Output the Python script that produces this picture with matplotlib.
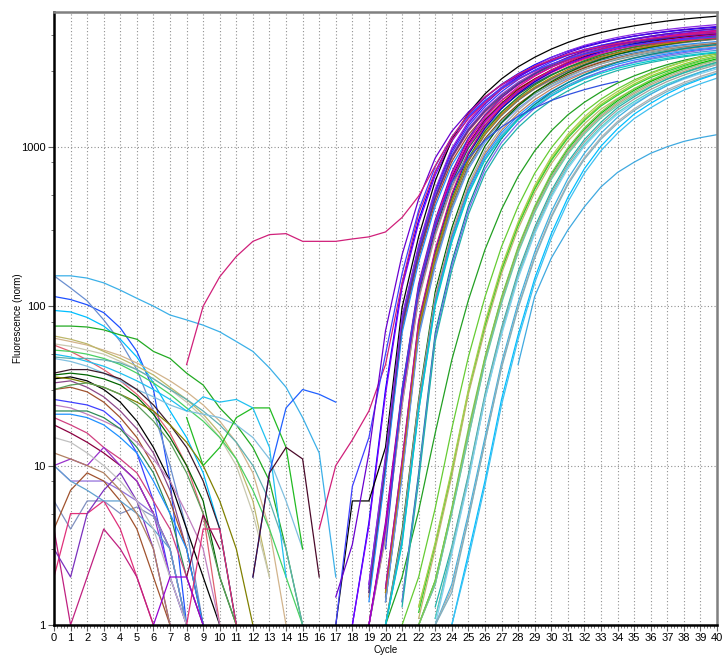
import numpy as np
import matplotlib
matplotlib.use("Agg")
import matplotlib.pyplot as plt
from matplotlib.ticker import FixedLocator, MultipleLocator, NullFormatter

plt.rcParams['font.family'] = ['Liberation Sans', 'DejaVu Sans']

# amplification curves: first cycle and fluorescence values (norm)
amp_starts = [18, 18, 19, 17, 19, 19, 19, 19, 19,
              19, 19, 19, 19, 19, 19,
              20, 20, 20, 20, 20, 20,
              20, 20, 20, 20, 20,
              21, 21, 21,
              19, 20, 19, 20, 19, 20, 19,
              20, 16, 17, 17]
amp_values = [
    [1, 4.4, 30, 138, 347, 693, 1133, 1584, 2024, 2464, 2871, 3267, 3641, 3971, 4268, 4521, 4741, 4939, 5115, 5269, 5401, 5522, 5621],
    [1, 4.2, 28, 131, 331, 662, 1082, 1512, 1932, 2352, 2741, 3119, 3476, 3791, 4074, 4316, 4526, 4715, 4883, 5030, 5156, 5271, 5366],
    [1.8, 11, 84, 235, 526, 952, 1400, 1848, 2296, 2733, 3136, 3528, 3886, 4211, 4480, 4726, 4939, 5130, 5298, 5443, 5566, 5678],
    [1, 6, 6, 13, 98, 273, 611, 1105, 1625, 2145, 2665, 3172, 3640, 4095, 4511, 4888, 5200, 5486, 5733, 5954, 6149, 6318, 6461, 6591],
    [1.7, 10.8, 81, 227, 508, 918, 1350, 1782, 2214, 2635, 3024, 3402, 3748, 4061, 4320, 4558, 4763, 4946, 5108, 5249, 5368, 5476],
    [1.7, 10.4, 78, 218, 489, 884, 1300, 1716, 2132, 2538, 2912, 3276, 3609, 3910, 4160, 4389, 4586, 4763, 4919, 5054, 5169, 5273],
    [1.6, 10, 75, 210, 470, 850, 1250, 1650, 2050, 2440, 2800, 3150, 3470, 3760, 4000, 4220, 4410, 4580, 4730, 4860, 4970, 5070],
    [1.5, 9.5, 71, 200, 447, 808, 1188, 1568, 1948, 2318, 2660, 2993, 3297, 3572, 3800, 4009, 4190, 4351, 4494, 4617, 4722, 4817],
    [1.4, 9, 68, 189, 423, 765, 1125, 1485, 1845, 2196, 2520, 2835, 3123, 3384, 3600, 3798, 3969, 4122, 4257, 4374, 4473, 4563],
    [1, 4.4, 30, 138, 347, 693, 1133, 1584, 2024, 2464, 2871, 3267, 3641, 3971, 4268, 4521, 4741, 4939, 5115, 5269, 5401, 5522],
    [1, 4.1, 28, 128, 321, 643, 1051, 1469, 1877, 2285, 2662, 3029, 3376, 3682, 3958, 4192, 4396, 4580, 4743, 4886, 5008, 5120],
    [1, 3.9, 26, 123, 309, 617, 1009, 1411, 1803, 2195, 2558, 2911, 3244, 3538, 3802, 4028, 4224, 4400, 4557, 4694, 4812, 4920],
    [1, 3.8, 26, 119, 299, 599, 979, 1368, 1748, 2128, 2480, 2822, 3145, 3430, 3686, 3905, 4095, 4266, 4418, 4551, 4665, 4769],
    [1, 3.6, 24, 113, 284, 567, 927, 1296, 1656, 2016, 2349, 2673, 2979, 3249, 3492, 3699, 3879, 4041, 4185, 4311, 4419, 4518],
    [1, 3.5, 24, 110, 277, 554, 906, 1267, 1619, 1971, 2297, 2614, 2913, 3177, 3414, 3617, 3793, 3951, 4092, 4215, 4321, 4418],
    [1.7, 10.5, 79, 221, 494, 893, 1313, 1733, 2153, 2562, 2940, 3308, 3644, 3948, 4200, 4431, 4631, 4809, 4967, 5103, 5219],
    [1.6, 10, 75, 210, 470, 850, 1250, 1650, 2050, 2440, 2800, 3150, 3470, 3760, 4000, 4220, 4410, 4580, 4730, 4860, 4970],
    [1.5, 9.5, 71, 200, 447, 808, 1188, 1568, 1948, 2318, 2660, 2993, 3297, 3572, 3800, 4009, 4190, 4351, 4494, 4617, 4722],
    [1.4, 9, 68, 189, 423, 765, 1125, 1485, 1845, 2196, 2520, 2835, 3123, 3384, 3600, 3798, 3969, 4122, 4257, 4374, 4473],
    [1.4, 8.8, 66, 185, 414, 748, 1100, 1452, 1804, 2147, 2464, 2772, 3054, 3309, 3520, 3714, 3881, 4030, 4162, 4277, 4374],
    [1.4, 8.5, 64, 179, 400, 723, 1063, 1403, 1743, 2074, 2380, 2678, 2950, 3196, 3400, 3587, 3749, 3893, 4021, 4131, 4225],
    [1, 3.9, 26, 123, 309, 617, 1009, 1411, 1803, 2195, 2558, 2911, 3244, 3538, 3802, 4028, 4224, 4400, 4557, 4694, 4812],
    [1, 3.7, 25, 115, 290, 580, 948, 1325, 1693, 2061, 2401, 2732, 3045, 3321, 3570, 3781, 3965, 4131, 4278, 4407, 4517],
    [1, 3.5, 24, 110, 277, 554, 906, 1267, 1619, 1971, 2297, 2614, 2913, 3177, 3414, 3617, 3793, 3951, 4092, 4215, 4321],
    [1, 3.4, 23, 106, 268, 536, 876, 1224, 1564, 1904, 2219, 2525, 2814, 3069, 3298, 3494, 3664, 3817, 3953, 4072, 4174],
    [1, 3.3, 22, 103, 258, 517, 845, 1181, 1509, 1837, 2140, 2435, 2714, 2960, 3182, 3370, 3534, 3682, 3813, 3928, 4026],
    [1.4, 9, 68, 189, 423, 765, 1125, 1485, 1845, 2196, 2520, 2835, 3123, 3384, 3600, 3798, 3969, 4122, 4257, 4374],
    [1.4, 8.5, 64, 179, 400, 723, 1063, 1403, 1743, 2074, 2380, 2678, 2950, 3196, 3400, 3587, 3749, 3893, 4021, 4131],
    [1.3, 8, 60, 168, 376, 680, 1000, 1320, 1640, 1952, 2240, 2520, 2776, 3008, 3200, 3376, 3528, 3664, 3784, 3888],
    [1, 4.2, 29, 133, 334, 668, 1092, 1526, 1950, 2374, 2767, 3148, 3509, 3827, 4113, 4357, 4569, 4759, 4929, 5077, 5205, 5322],
    [1.6, 9.7, 73, 204, 456, 825, 1213, 1601, 1989, 2367, 2716, 3056, 3366, 3647, 3880, 4093, 4278, 4443, 4588, 4714, 4821],
    [1.6, 10.2, 77, 214, 479, 867, 1275, 1683, 2091, 2489, 2856, 3213, 3539, 3835, 4080, 4304, 4498, 4672, 4825, 4957, 5069, 5171],
    [1, 3.2, 22, 100, 252, 504, 824, 1152, 1472, 1792, 2088, 2376, 2648, 2888, 3104, 3288, 3448, 3592, 3720, 3832, 3928],
    [1, 4, 27, 125, 315, 630, 1030, 1440, 1840, 2240, 2610, 2970, 3310, 3610, 3880, 4110, 4310, 4490, 4650, 4790, 4910, 5020],
    [1.7, 10.8, 81, 227, 508, 918, 1350, 1782, 2214, 2635, 3024, 3402, 3748, 4061, 4320, 4558, 4763, 4946, 5108, 5249, 5368],
    [1.8, 11.5, 86, 242, 541, 978, 1438, 1898, 2358, 2806, 3220, 3623, 3991, 4324, 4600, 4853, 5072, 5267, 5440, 5589, 5716, 5831],
    [3, 30, 130, 330, 600, 850, 1100, 1330, 1550, 1750, 1950, 2120, 2280, 2430, 2570],
    [4, 10, 14.5, 22, 43, 140, 380, 700, 1100, 1500, 1900, 2300, 2650, 2980, 3280, 3550, 3780, 3980, 4160, 4310, 4440, 4550, 4650, 4740, 4820],
    [1, 7.4, 15, 50, 160, 400, 750, 1150, 1550, 1950, 2330, 2680, 3000, 3300, 3570, 3810, 4020, 4200, 4360, 4500, 4620, 4720, 4810, 4890],
    [1.5, 3.2, 12, 70, 210, 470, 850, 1250, 1650, 2050, 2440, 2800, 3150, 3470, 3760, 4000, 4220, 4410, 4580, 4730, 4860, 4970, 5070, 5160],
]
amp_colors = ['#0000ff', '#7b00ff', '#5500dd', '#000000', '#3333ff', '#9932cc', '#b22280', '#a0522d', '#1e90ff',
              '#6a0dad', '#800000', '#ff1493', '#2f4f4f', '#4682b4', '#bc8f8f',
              '#0000cd', '#228b22', '#696969', '#8b4513', '#5f9ea0', '#6495ed',
              '#006400', '#a9a9a9', '#c08060', '#1e90ff', '#4a9fd0',
              '#008b8b', '#7b68ee', '#20b2aa',
              '#dd00aa', '#b8860b', '#483d8b', '#00ced1', '#9400d3', '#c71585', '#8a2be2',
              '#3050e0', '#d0207a', '#4040ff', '#6a00d0']

# later group of amplification curves
late_starts = [20, 21, 22, 22, 22, 22, 22, 22, 22, 23, 23, 23, 23, 23, 23, 23, 24, 24, 22, 22]
late_values = [
    [1, 2, 5.2, 16, 46, 109, 226, 405, 651, 942, 1258, 1584, 1901, 2209, 2508, 2781, 3036, 3274, 3485, 3670, 3828],
    [1, 2, 5.4, 17, 48, 114, 236, 423, 681, 984, 1316, 1656, 1987, 2309, 2622, 2907, 3174, 3422, 3643, 3836],
    [1.3, 3.2, 9.2, 29, 76, 171, 327, 552, 837, 1159, 1490, 1840, 2153, 2475, 2778, 3045, 3303, 3542, 3744],
    [1.2, 3.2, 9, 29, 75, 167, 320, 540, 819, 1134, 1458, 1800, 2106, 2421, 2718, 2979, 3231, 3465, 3663],
    [1.1, 3, 8.6, 28, 71, 160, 305, 516, 783, 1084, 1393, 1720, 2012, 2313, 2597, 2847, 3087, 3311, 3500],
    [1, 1.9, 5.3, 16, 47, 112, 231, 414, 666, 963, 1287, 1620, 1944, 2259, 2565, 2844, 3105, 3348, 3564],
    [1, 1.8, 5.2, 16, 46, 109, 226, 405, 651, 942, 1258, 1584, 1901, 2209, 2508, 2781, 3036, 3274, 3485],
    [1, 1.8, 5.1, 15, 45, 107, 221, 396, 636, 920, 1230, 1548, 1858, 2159, 2451, 2718, 2967, 3199, 3406],
    [1, 1.8, 5, 15, 44, 104, 216, 386, 622, 899, 1201, 1512, 1814, 2108, 2394, 2654, 2898, 3125, 3326],
    [1.3, 3.1, 8.8, 28, 73, 164, 312, 528, 801, 1109, 1426, 1760, 2059, 2367, 2658, 2913, 3159, 3388],
    [1.1, 3, 8.5, 27, 71, 158, 302, 510, 774, 1071, 1377, 1700, 1989, 2287, 2567, 2814, 3052, 3273],
    [1.1, 2.9, 8.2, 26, 68, 153, 291, 492, 746, 1033, 1328, 1640, 1919, 2206, 2476, 2714, 2944, 3157],
    [1, 2.8, 8, 26, 66, 149, 284, 480, 728, 1008, 1296, 1600, 1872, 2152, 2416, 2648, 2872, 3080],
    [1, 1.8, 5, 15, 44, 105, 218, 391, 629, 910, 1216, 1530, 1836, 2134, 2423, 2686, 2933, 3162],
    [1, 1.7, 4.7, 14, 42, 99, 206, 368, 592, 856, 1144, 1440, 1728, 2008, 2280, 2528, 2760, 2976],
    [1, 1.6, 4.6, 14, 41, 97, 200, 359, 577, 835, 1115, 1404, 1685, 1958, 2223, 2465, 2691, 2902],
    [1, 2.8, 8, 26, 66, 149, 284, 480, 728, 1008, 1296, 1600, 1872, 2152, 2416, 2648, 2872],
    [1, 2.6, 7.5, 24, 62, 140, 266, 450, 683, 945, 1215, 1500, 1755, 2018, 2265, 2483, 2693],
    [1.3, 3.3, 9.5, 30, 79, 177, 337, 570, 865, 1197, 1539, 1900, 2223, 2556, 2869, 3145, 3411, 3658, 3867],
    [1, 1.9, 5.4, 17, 48, 114, 236, 423, 681, 984, 1316, 1656, 1987, 2309, 2622, 2907, 3174, 3422, 3643],
]
late_colors = ['#22a022', '#66cc33', '#9acd32', '#32cd32', '#bdb76b', '#00c000', '#8fbc8f', '#c0a080', '#66cdaa',
               '#20b2aa', '#a0a0a0', '#48d1cc', '#87ceeb', '#3cb0e0', '#b0b0b0', '#7fb0c0', '#00bfff', '#40c0f0',
               '#aad050', '#7ec850']

# single late riser and the odd early-rising well
last_start = 28
last_values = [43, 115, 200, 300, 420, 560, 690, 800, 910, 1000, 1080, 1140, 1190]
odd_start = 8
odd_values = [43, 100, 153, 205, 255, 281, 285, 255, 255, 255, 264, 272, 292, 360, 490, 760, 1150, 1600,
              2050, 2450, 2850, 3200, 3500, 3800, 4050, 4250, 4450, 4620, 4780, 4900, 5020, 5120, 5200]

# baseline noise of the early cycles
base_starts = [0] * 35 + [8, 8, 6, 8, 0, 12, 12]
base_values = [
    [155, 155, 150, 140, 126, 112, 100, 88, 82, 76, 69, 60, 52, 41, 31, 20, 12, 2],
    [115, 110, 102, 91, 73, 52, 30, 8, 1],
    [155, 130, 108, 82, 60, 40, 22, 10, 4, 1],
    [94, 92, 85, 75, 62, 48, 33, 22, 15, 9, 4, 1],
    [75, 75, 74, 71, 66, 62, 52, 47, 38, 32, 23, 18, 13, 8, 3, 1],
    [63, 60, 57, 53, 49, 44, 39, 34, 29, 24, 19, 14, 9, 4, 1],
    [65, 62, 58, 52, 47, 42, 37, 31, 26, 21, 16, 11, 6, 2],
    [58, 56, 53, 50, 45, 40, 35, 30, 25, 20, 15, 10, 5, 2],
    [57, 52, 46, 40, 34, 28, 22, 16, 10, 5, 1],
    [53, 52, 50, 47, 43, 38, 33, 28, 23, 19, 15, 11, 7, 4, 2, 1],
    [48, 47, 47, 46, 44, 40, 35, 30, 26, 22, 18, 14, 10, 6, 3, 1],
    [47, 45, 42, 38, 34, 30, 27, 24, 22, 21, 20, 18, 15, 11, 6, 3],
    [38, 40, 40, 38, 35, 30, 24, 18, 13, 8, 4, 1],
    [37, 38, 37, 35, 32, 27, 21, 15, 10, 6, 2, 1],
    [35, 36, 34, 30, 25, 19, 13, 8, 4, 2, 1],
    [33, 34, 31, 27, 22, 17, 12, 7, 3, 1],
    [30, 31, 29, 25, 20, 15, 10, 6, 3, 1],
    [36, 35, 33, 31, 28, 25, 22, 18, 14, 10, 6, 3, 1],
    [30, 32, 33, 31, 28, 24, 19, 14, 9, 5, 2, 1],
    [26, 25, 24, 22, 18, 12, 6, 2, 1],
    [24, 23, 21, 19, 17, 14, 11, 8, 5, 3, 1],
    [22, 22, 22, 20, 17, 13, 9, 5, 2, 1],
    [20, 18, 16, 13, 11, 9, 6, 4, 2, 1],
    [21, 21, 20, 18, 15, 12, 8, 5, 3, 1],
    [18, 16, 14, 12, 10, 8, 5, 3, 1],
    [10, 11, 10, 13, 10, 8, 5, 2, 1],
    [10, 8, 8, 8, 7, 6, 5, 3, 1],
    [6, 4, 6, 6, 5, 5.5, 4.8, 3, 1],
    [2, 5, 5, 6, 4, 2, 1],
    [4, 1, 2, 4, 3, 2, 1],
    [4, 7, 9, 8, 6, 4, 2, 1],
    [3, 2, 5, 7, 9, 6, 3, 1],
    [10, 8, 7, 6, 6, 5, 4, 3, 1],
    [15, 14, 12, 10, 8, 6, 4, 2, 1],
    [12, 11, 10, 9, 7, 5, 3, 1],
    [2, 4.9, 3],
    [1, 4, 4, 1],
    [1, 2, 2, 1],
    [20, 10, 13, 20, 23, 23, 13, 3],
    [50, 48, 45, 42, 38, 34, 30, 26, 22, 27, 25, 26, 23, 13, 2],
    [2, 9, 23, 30, 28, 25],
    [2, 9, 13, 11, 2],
]
base_colors = ['#3cb0e8', '#1e50ff', '#6a8fd0', '#00bfff', '#22aa22', '#d2b48c', '#bdb76b', '#c8c8b0',
               '#e06070', '#48d060', '#5fb0b0', '#80c0e0', '#3c1a2a', '#006400', '#000000', '#8b4789',
               '#a0522d', '#808000', '#5a9e5a', '#4040ff', '#c080c0', '#2e8b57', '#d04080', '#1e90ff',
               '#8b0040', '#9932cc', '#9370db', '#8090c0', '#e0307a', '#c02080', '#a0522d', '#7b2fbe',
               '#60a0d0', '#c0c0c0', '#b08060', '#800040', '#e0307a', '#9400d3', '#22bb22', '#20c0f0',
               '#2060ff', '#4a0a2a']

fig = plt.figure(figsize=(7.22, 6.57), dpi=100)
ax = fig.add_axes([54 / 722, 32 / 657, 663 / 722, 613 / 657])
ax.set_yscale('log')

lw = 0.9
for s, v, c in zip(base_starts, base_values, base_colors):
    ax.plot(np.arange(s, s + len(v)), v, color=c, lw=lw)
for s, v, c in zip(late_starts, late_values, late_colors):
    ax.plot(np.arange(s, s + len(v)), v, color=c, lw=lw)
for s, v, c in zip(amp_starts, amp_values, amp_colors):
    ax.plot(np.arange(s, s + len(v)), v, color=c, lw=lw)
ax.plot(np.arange(last_start, last_start + len(last_values)), last_values, color='#3fa9e0', lw=lw)
ax.plot(np.arange(odd_start, odd_start + len(odd_values)), odd_values, color='#d0207a', lw=lw)

ax.set_xlim(0, 40)
ax.set_ylim(1, 7000)

ax.xaxis.set_major_locator(MultipleLocator(1))
ax.xaxis.set_minor_locator(MultipleLocator(0.2))
ax.yaxis.set_major_locator(FixedLocator([1, 10, 100, 1000]))
ax.yaxis.set_minor_locator(FixedLocator([m * 10 ** k for k in range(4) for m in (3, 5, 8)]))
ax.yaxis.set_minor_formatter(NullFormatter())
ax.set_yticklabels(['1', '10', '100', '1000'])

ax.grid(True, which='major', axis='both', color='#909090', linestyle=(0, (1, 2)), linewidth=0.8)

ax.tick_params(axis='both', which='major', labelsize=8, length=4, width=0.8, color='#606060', pad=2)
ax.tick_params(axis='both', which='minor', length=2, width=0.6, color='#606060')

for side in ('left', 'bottom'):
    ax.spines[side].set_linewidth(1.8)
    ax.spines[side].set_color('black')
for side in ('top', 'right'):
    ax.spines[side].set_linewidth(1.8)
    ax.spines[side].set_color('#808080')

ax.set_xlabel('Cycle', fontsize=7, labelpad=1)
ax.set_ylabel('Fluorescence (norm)', fontsize=7, labelpad=1)
ax.yaxis.set_label_coords(-0.047, 0.5)

fig.savefig('out.png', dpi=100)
